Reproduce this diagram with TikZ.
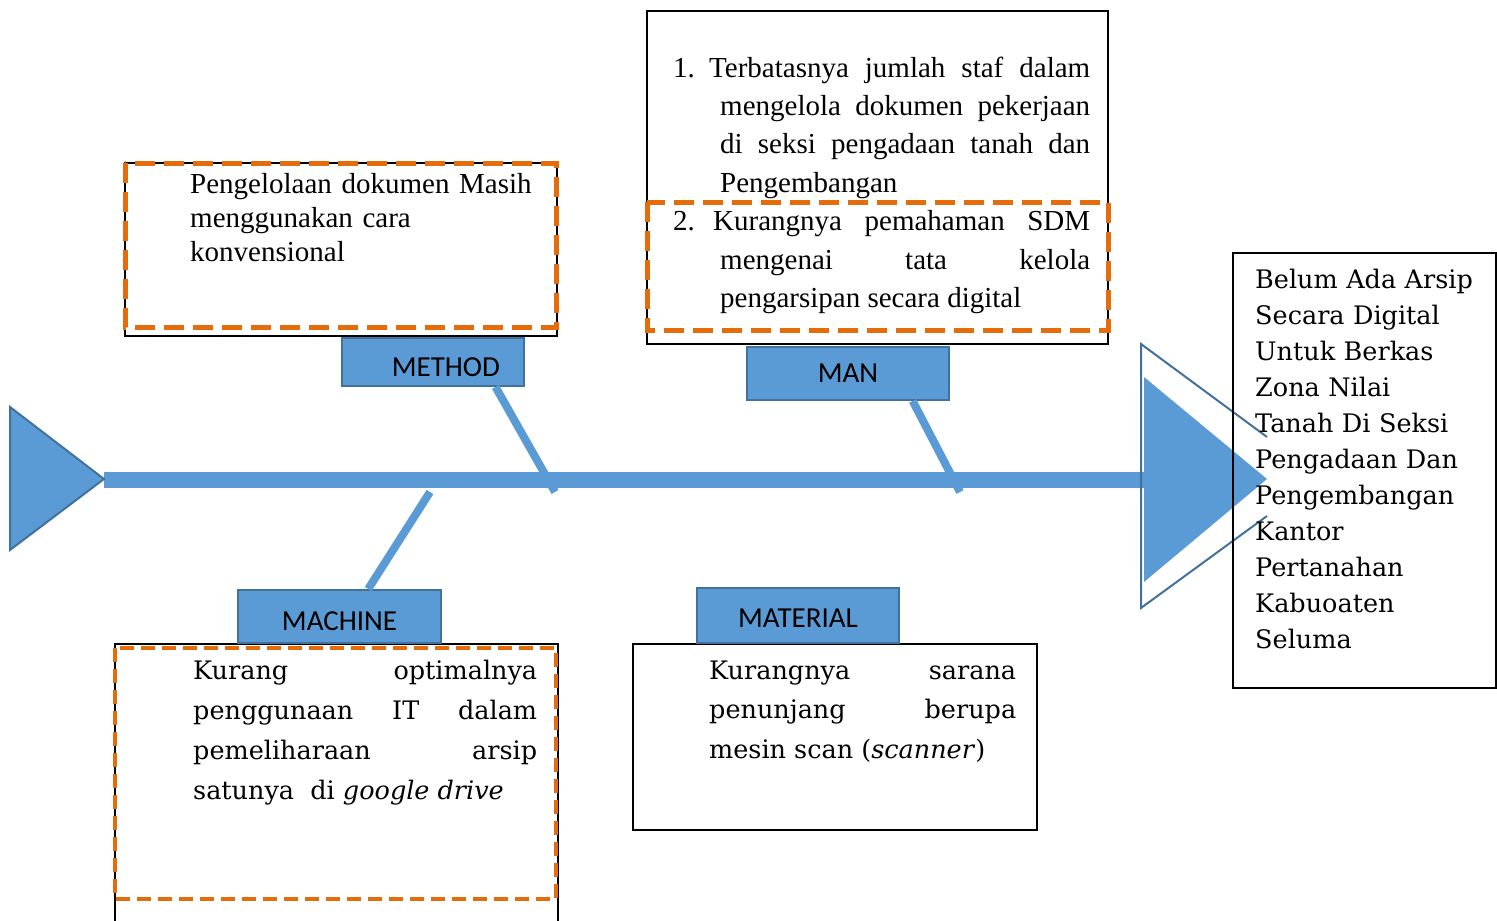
\documentclass[tikz,border=0pt]{standalone}
\usepackage{fontspec}
\setmainfont{Liberation Serif}
\newfontfamily\bookfont{DejaVu Serif}
\newfontfamily\lblfont{Carlito}
\usepackage{tikz}
\usetikzlibrary{calc}
\definecolor{fishblue}{RGB}{91,155,213}
\definecolor{fishedge}{RGB}{65,113,156}
\definecolor{causeorange}{RGB}{228,108,10}
\tikzset{
	spine/.style={fishblue, line width=16pt},
	bone/.style={fishblue, line width=8pt},
	catbox/.style={draw=fishedge, fill=fishblue, line width=2pt, inner sep=0pt,
		text depth=0pt, font=\lblfont\fontsize{29}{34}\selectfont},
	frame/.style={draw=black, line width=2.5pt},
	orangedash/.style={draw=causeorange, line width=5pt, dash pattern=on 20pt off 9pt},
	timestext/.style={anchor=base west, inner sep=0pt},
	booktext/.style={anchor=base west, inner sep=0pt, align=justify},
}

\begin{document}
\begin{tikzpicture}[x=1pt, y=-1pt]
	\useasboundingbox (0,0) rectangle (1497,921);
	
	% Spine and bones
	\coordinate (tailtip) at (104,480);
	\coordinate (headbase) at (1145,480);
	\coordinate (methodend) at (555,492);
	\coordinate (manend) at (960,492);
	\coordinate (machineend) at (430,492);
	\draw[spine] (tailtip) -- (headbase);
	
	% Tail and head
	\filldraw[fill=fishblue, draw=fishedge, line width=2pt] (10,407) -- (104,479) -- (10,550) -- cycle;
	\draw[fishedge, line width=2pt] (1267,437) -- (1141,344) -- (1141,608) -- (1267,516);
	\fill[fishblue] (1144,377) -- (1267,479) -- (1144,582) -- cycle;
	
	% Frames of the causes
	\draw[frame] (125,163) rectangle (557,336);
	\draw[orangedash] (125,163) rectangle (556,327);
	\draw[frame] (647,11) rectangle (1108,344);
	\draw[orangedash] (647,202) rectangle (1108,330);
	\draw[frame] (115,930) -- (115,644) -- (558,644) -- (558,930);
	\draw[orangedash, line width=4pt, dash pattern=on 14pt off 7pt] (115,648) rectangle (556,899);
	\draw[frame] (633,644) rectangle (1037,830);
	\draw[frame] (1233,253) rectangle (1496,688);
	
	% Categories
	\node[catbox, minimum width=182pt, minimum height=48pt, text width=134pt, align=right, text height=28.5pt]
		(methodlbl) at (433,362) {METHOD};
	\node[catbox, minimum width=202pt, minimum height=53pt, text height=18.7pt] (manlbl) at (848,373.5) {MAN};
	\node[catbox, minimum width=203pt, minimum height=53pt, text height=27.5pt] (machinelbl) at (339.5,616.5) {MACHINE};
	\node[catbox, minimum width=202pt, minimum height=55pt, text height=23.5pt] (materiallbl) at (798,615.5) {MATERIAL};
	
	\draw[bone] ($(methodlbl.south west)!0.84!(methodlbl.south east)$) -- (methodend);
	\draw[bone] ($(manlbl.south west)!0.817!(manlbl.south east)$) -- (manend);
	\draw[bone] ($(machinelbl.north west)!0.64!(machinelbl.north east)$) -- (machineend);
	
	% Texts
	\node[timestext, text width=360pt, align=left, font=\fontsize{29}{34}\selectfont] (methodtxt) at (190,193)
		{Pengelolaan dokumen Masih\\ menggunakan cara\\ konvensional};
	\node[timestext, text width=417pt, align=justify, font=\fontsize{29}{38.4}\selectfont] (mantxt) at (673,77)
		{\makebox[36pt][l]{1.}\hangindent=47pt\hangafter=1 Terbatasnya jumlah staf dalam\linebreak
		mengelola dokumen pekerjaan\linebreak di seksi pengadaan tanah dan\linebreak Pengembangan\par
		\makebox[40pt][l]{2.}\hangindent=47pt\hangafter=1 Kurangnya pemahaman SDM\linebreak
		mengenai tata kelola\linebreak pengarsipan secara digital\par};
	\node[booktext, text width=344pt, font=\bookfont\fontsize{25.5}{40}\selectfont] (machinetxt) at (193,679)
		{Kurang optimalnya\linebreak penggunaan IT dalam\linebreak pemeliharaan arsip\linebreak
		satunya\ \ di \textit{google drive}};
	\node[booktext, text width=307pt, font=\bookfont\fontsize{25.5}{39.5}\selectfont] (materialtxt) at (709,679)
		{Kurangnya sarana\linebreak penunjang berupa\linebreak mesin scan (\textit{scanner})};
	\node[timestext, text width=235pt, align=left, font=\bookfont\fontsize{25.5}{36}\selectfont] (effecttxt) at (1255,288)
		{Belum Ada Arsip\\ Secara Digital\\ Untuk Berkas\\ Zona Nilai\\ Tanah Di Seksi\\ Pengadaan Dan\\
		Pengembangan\\ Kantor\\ Pertanahan\\ Kabuoaten\\ Seluma};
\end{tikzpicture}
\end{document}
